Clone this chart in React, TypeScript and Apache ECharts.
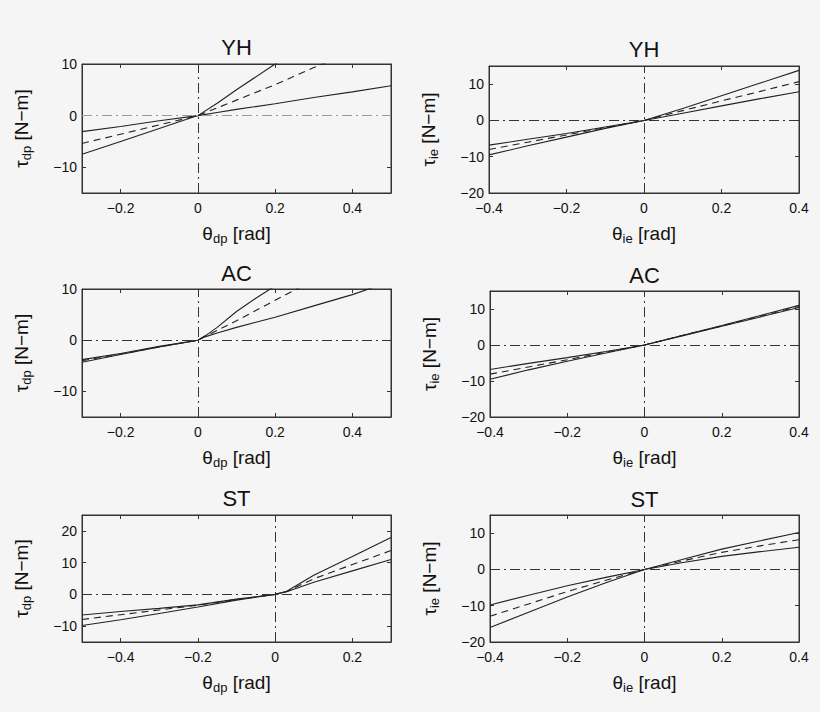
import React, { useEffect, useRef } from 'react';
import * as echarts from 'echarts';

const FONT = '"Liberation Sans", Arial, Helvetica, sans-serif';

// row titles (subjects)
const rowTitles = ['YH', 'AC', 'ST'];

// tick labels
const dpXTicksA = [-0.2, 0, 0.2, 0.4];
const dpXTicksB = [-0.4, -0.2, 0, 0.2];
const ieXTicks = [-0.4, -0.2, 0, 0.2, 0.4];
const dpYTicksA = [-10, 0, 10];
const dpYTicksB = [-10, 0, 10, 20];
const ieYTicks = [-20, -10, 0, 10];

// YH, dorsi/plantar flexion
const yhDpAngle = [-0.3, -0.2, -0.1, 0, 0.05, 0.1, 0.2, 0.3, 0.4, 0.5];
const yhDpStiff = [-7.5, -5.0, -2.5, 0, 2.4, 5.0, 10.0, 15.0, 20.0, 25.0];
const yhDpMid = [-5.4, -3.6, -1.8, 0, 1.5, 3.0, 6.0, 9.3, 12.4, 15.5];
const yhDpSoft = [-3.1, -2.1, -1.0, 0, 0.6, 1.2, 2.3, 3.5, 4.6, 5.8];

// YH, inversion/eversion
const yhIeAngle = [-0.4, -0.3, -0.2, -0.1, 0, 0.1, 0.2, 0.3, 0.4];
const yhIeStiff = [-9.5, -7.0, -4.6, -2.2, 0, 3.3, 6.8, 10.3, 13.8];
const yhIeMid = [-8.0, -6.0, -4.0, -2.0, 0, 2.7, 5.4, 8.0, 10.7];
const yhIeSoft = [-6.8, -5.2, -3.6, -1.8, 0, 2.0, 4.0, 6.0, 7.9];

// AC, dorsi/plantar flexion
const acDpAngle = [-0.3, -0.2, -0.1, 0, 0.02, 0.05, 0.1, 0.15, 0.2, 0.3, 0.4, 0.45, 0.5];
const acDpStiff = [-4.3, -2.8, -1.3, 0, 0.9, 2.5, 5.6, 8.2, 10.6, 15.5, 20.4, 22.9, 25.3];
const acDpMid = [-4.0, -2.7, -1.3, 0, 0.8, 1.9, 3.8, 5.8, 7.8, 11.7, 15.6, 17.5, 19.5];
const acDpSoft = [-3.8, -2.6, -1.2, 0, 0.7, 1.4, 2.5, 3.5, 4.5, 6.7, 8.9, 10.2, 11.3];

// AC, inversion/eversion
const acIeAngle = [-0.4, -0.3, -0.2, -0.1, 0, 0.1, 0.2, 0.3, 0.4];
const acIeStiff = [-9.5, -6.9, -4.5, -2.2, 0, 2.7, 5.4, 8.2, 11.0];
const acIeMid = [-8.1, -6.1, -4.1, -2.0, 0, 2.7, 5.3, 8.0, 10.7];
const acIeSoft = [-6.8, -5.1, -3.5, -1.8, 0, 2.6, 5.2, 7.8, 10.4];

// ST, dorsi/plantar flexion
const stDpAngle = [-0.5, -0.4, -0.3, -0.2, -0.1, 0, 0.03, 0.1, 0.2, 0.3];
const stDpStiff = [-9.8, -8.0, -6.0, -4.0, -1.8, 0, 1.0, 6.0, 11.9, 17.9];
const stDpMid = [-7.9, -6.4, -4.9, -3.4, -1.6, 0, 0.9, 4.9, 9.4, 13.8];
const stDpSoft = [-6.5, -5.4, -4.4, -3.3, -1.5, 0, 0.8, 3.8, 7.4, 11.0];

// ST, inversion/eversion
const stIeAngle = [-0.4, -0.3, -0.2, -0.1, 0, 0.1, 0.2, 0.3, 0.4];
const stIeStiff = [-16.0, -11.8, -7.6, -3.7, 0, 2.8, 5.6, 7.9, 10.2];
const stIeMid = [-12.9, -9.5, -6.1, -3.0, 0, 2.4, 4.7, 6.5, 8.2];
const stIeSoft = [-9.8, -7.1, -4.5, -2.2, 0, 1.9, 3.6, 4.9, 6.1];

const panels = [
  { title: rowTitles[0], sub: 'dp', x: yhDpAngle, curves: [yhDpStiff, yhDpMid, yhDpSoft], xr: [-0.3, 0.5], yr: [-15, 10], xt: dpXTicksA, yt: dpYTicksA, hZeroColor: '#999' },
  { title: rowTitles[0], sub: 'ie', x: yhIeAngle, curves: [yhIeStiff, yhIeMid, yhIeSoft], xr: [-0.4, 0.4], yr: [-20, 15], xt: ieXTicks, yt: ieYTicks, hZeroColor: '#333' },
  { title: rowTitles[1], sub: 'dp', x: acDpAngle, curves: [acDpStiff, acDpMid, acDpSoft], xr: [-0.3, 0.5], yr: [-15, 10], xt: dpXTicksA, yt: dpYTicksA, hZeroColor: '#333' },
  { title: rowTitles[1], sub: 'ie', x: acIeAngle, curves: [acIeStiff, acIeMid, acIeSoft], xr: [-0.4, 0.4], yr: [-20, 15], xt: ieXTicks, yt: ieYTicks, hZeroColor: '#333' },
  { title: rowTitles[2], sub: 'dp', x: stDpAngle, curves: [stDpStiff, stDpMid, stDpSoft], xr: [-0.5, 0.3], yr: [-15, 25], xt: dpXTicksB, yt: dpYTicksB, hZeroColor: '#333' },
  { title: rowTitles[2], sub: 'ie', x: stIeAngle, curves: [stIeStiff, stIeMid, stIeSoft], xr: [-0.4, 0.4], yr: [-20, 15], xt: ieXTicks, yt: ieYTicks, hZeroColor: '#333' },
];

const gridBoxes = [
  { left: 82, top: 64, width: 309, height: 129 },
  { left: 489, top: 66, width: 310, height: 127 },
  { left: 82, top: 289, width: 309, height: 128 },
  { left: 490, top: 291, width: 309, height: 126 },
  { left: 82, top: 515, width: 309, height: 127 },
  { left: 490, top: 515, width: 309, height: 127 },
];

const titleY = [47.5, 49.5, 273, 275, 498, 499];

const fmt = (v: number) => String(v).replace('-', '\u2212');

const nameRich = {
  m: { fontSize: 19, color: '#111', fontFamily: FONT },
  s: { fontSize: 13, color: '#111', fontFamily: FONT, padding: [11, 0, 0, 0] },
};

export default function App() {
  const ref = useRef<HTMLDivElement>(null);

  useEffect(() => {
    if (!ref.current) return;
    const chart = echarts.init(ref.current, null, { renderer: 'svg' });

    const xAxis: any[] = [];
    const yAxis: any[] = [];
    const series: any[] = [];
    const graphic: any[] = [];

    panels.forEach((p, i) => {
      const line = { show: true, onZero: false, lineStyle: { color: '#333', width: 1 } };
      const tick = (vals: number[]) => ({ inside: true, length: 4, customValues: vals, lineStyle: { color: '#333' } });
      const label = (vals: number[], margin: number) => ({
        customValues: vals, formatter: fmt, margin, fontSize: 14, color: '#111', fontFamily: FONT,
      });
      xAxis.push({
        type: 'value', gridIndex: i, min: p.xr[0], max: p.xr[1], position: 'bottom',
        axisLine: line,
        splitLine: { show: false },
        axisTick: tick(p.xt),
        axisLabel: label(p.xt, 8),
        name: `{m|\u03b8}{s|${p.sub}}{m| [rad]}`,
        nameLocation: 'middle', nameGap: 28,
        nameTextStyle: { fontSize: 19, fontFamily: FONT, rich: nameRich },
      });
      xAxis.push({
        type: 'value', gridIndex: i, min: p.xr[0], max: p.xr[1], position: 'top',
        axisLine: line,
        splitLine: { show: false },
        axisTick: tick(p.xt),
        axisLabel: { show: false },
      });
      yAxis.push({
        type: 'value', gridIndex: i, min: p.yr[0], max: p.yr[1], position: 'left',
        axisLine: line,
        splitLine: { show: false },
        axisTick: tick(p.yt),
        axisLabel: label(p.yt, 5),
        name: `{m|\u03c4}{s|${p.sub}}{m| [N\u2212m]}`,
        nameLocation: 'middle', nameGap: 49,
        nameTextStyle: { fontSize: 19, fontFamily: FONT, rich: nameRich },
      });
      yAxis.push({
        type: 'value', gridIndex: i, min: p.yr[0], max: p.yr[1], position: 'right',
        axisLine: line,
        splitLine: { show: false },
        axisTick: tick(p.yt),
        axisLabel: { show: false },
      });

      p.curves.forEach((c, k) => {
        series.push({
          type: 'line',
          xAxisIndex: 2 * i,
          yAxisIndex: 2 * i,
          data: p.x.map((x, j) => [x, c[j]]),
          showSymbol: false,
          clip: true,
          silent: true,
          lineStyle: { color: '#222', width: 1.1, type: k === 1 ? [7, 5] : 'solid' },
          markLine: k === 0 ? {
            silent: true,
            symbol: 'none',
            label: { show: false },
            lineStyle: { color: '#333', width: 1, type: [10, 4, 2, 4] },
            data: [
              { xAxis: 0 },
              { yAxis: 0, lineStyle: { color: p.hZeroColor, width: 1, type: [10, 4, 2, 4] } },
            ],
          } : undefined,
        });
      });

      const g = gridBoxes[i];
      graphic.push({
        type: 'text',
        x: g.left + g.width / 2,
        y: titleY[i],
        style: {
          text: p.title,
          align: 'center',
          verticalAlign: 'middle',
          fontSize: 22,
          fontFamily: FONT,
          fill: '#111',
        },
      });
    });

    chart.setOption({
      animation: false,
      backgroundColor: '#f5f5f5',
      grid: gridBoxes.map((g) => ({ ...g, show: true, borderColor: '#333', borderWidth: 1, backgroundColor: 'transparent' })),
      xAxis,
      yAxis,
      series,
      graphic,
    });

    return () => {
      chart.dispose();
    };
  }, []);

  return (
    <div
      ref={ref}
      style={{ position: 'absolute', left: 0, top: 0, width: 820, height: 712, background: '#f5f5f5' }}
    />
  );
}
